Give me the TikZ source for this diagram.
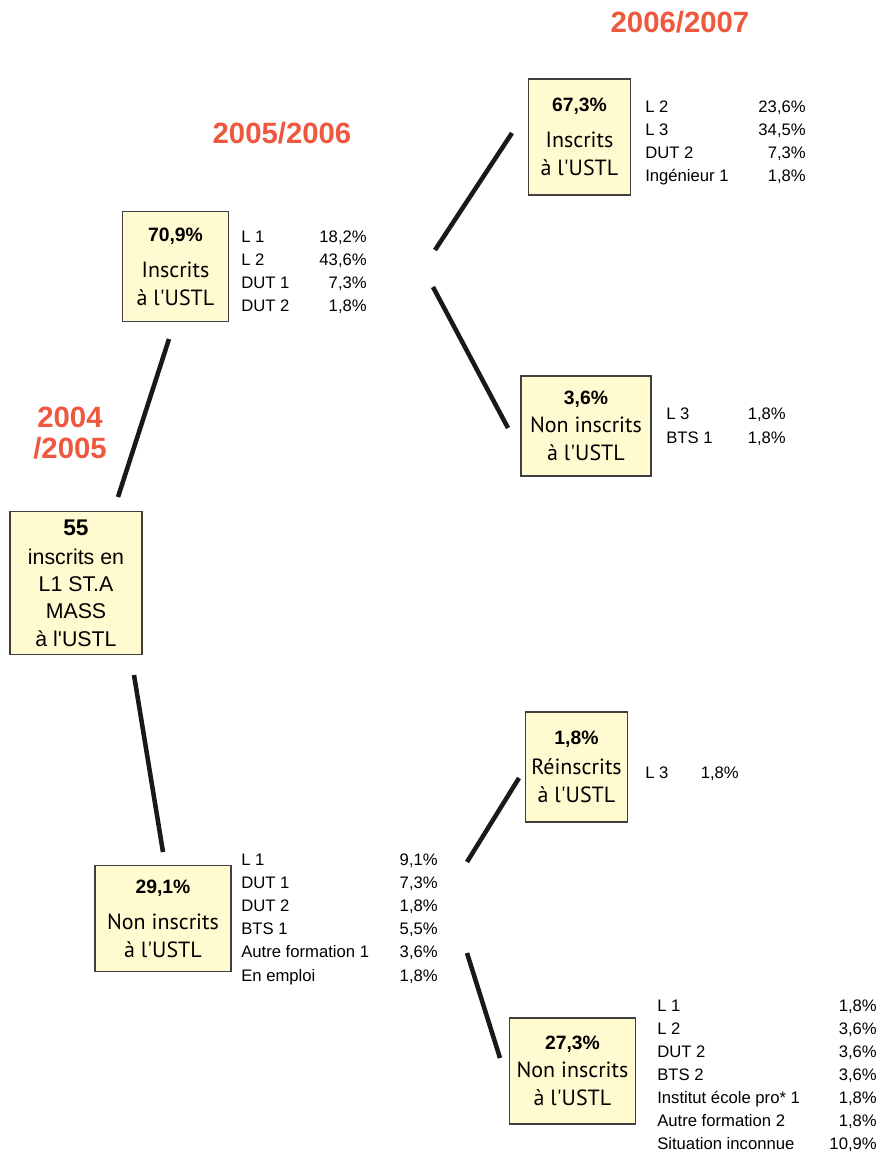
\documentclass[tikz,border=0pt]{standalone}
\usepackage{fontspec}
\setmainfont{Liberation Sans}
\newfontfamily\boxfont{PT Sans}
\usepackage{tikz}
\usetikzlibrary{positioning,calc}
\definecolor{yearorange}{RGB}{238,88,62}
\definecolor{boxyellow}{RGB}{255,250,208}

\begin{document}
\begin{tikzpicture}[x=0.75pt, y=-0.75pt]
    \tikzset{
        box/.style={draw=black!75, line width=0.9pt, fill=boxyellow, align=center, inner sep=0pt,
            font=\boxfont\fontsize{16.5}{21}\selectfont},
        rootbox/.style={box, font=\normalfont\fontsize{16}{20.5}\selectfont},
        year/.style={font=\fontsize{22}{23}\selectfont\bfseries, text=yearorange},
        row/.style={font=\fontsize{12.5}{15}\selectfont, inner sep=0pt},
        link/.style={line width=3.4pt, black!90}
    }
    \useasboundingbox (0,0) rectangle (879,1154);
    \newcommand{\pc}[1]{{\normalfont\fontsize{14.5}{17}\selectfont\bfseries #1}}
    \newcommand{\ustl}{à l\textquotesingle USTL}

    % years
    \node[year] (y0607) at (680,22) {2006/2007};
    \node[year] (y0506) at (282,133) {2005/2006};
    \node[year, align=center] (y0405) at (70,433) {2004\\/2005};

    % 2004/2005
    \node[rootbox, minimum width=99pt, minimum height=107pt] (root) at (76,583)
        {{\fontsize{17}{21}\selectfont\bfseries 55}\\[1pt]inscrits en\\L1 ST.A\\MASS\\\ustl};

    % 2005/2006
    \node[box, minimum width=79pt, minimum height=83pt] (ins1) at (175.5,266.5)
        {\pc{70,9\%}\\[6pt]Inscrits\\\ustl};
    \node[box, minimum width=102pt, minimum height=80pt] (non1) at (163,918.5)
        {\pc{29,1\%}\\[6pt]Non inscrits\\\ustl};

    % 2006/2007
    \node[box, minimum width=77pt, minimum height=87pt] (ins2) at (579.5,137)
        {\pc{67,3\%}\\[6pt]Inscrits\\\ustl};
    \node[box, minimum width=97.5pt, minimum height=75pt] (non2) at (586,426)
        {\pc{3,6\%}\\Non inscrits\\\ustl};
    \node[box, minimum width=77pt, minimum height=82.5pt] (rei3) at (576.5,767)
        {\pc{1,8\%}\\[2pt]Réinscrits\\\ustl};
    \node[box, minimum width=95pt, minimum height=79.5pt] (non3) at (572.5,1071)
        {\pc{27,3\%}\\Non inscrits\\\ustl};

    % lists
    \foreach \lab/\val [count=\i] in {L 1/{18,2\%}, L 2/{43,6\%}, DUT 1/{7,3\%}, DUT 2/{1,8\%}} {
        \node[row, anchor=base west] (ins1-l\i) at (241,{242+23*(\i-1)}) {\lab};
        \node[row, anchor=base east] (ins1-v\i) at (367,{242+23*(\i-1)}) {\val};
    }
    \foreach \lab/\val [count=\i] in {L 2/{23,6\%}, L 3/{34,5\%}, DUT 2/{7,3\%}, Ingénieur 1/{1,8\%}} {
        \node[row, anchor=base west] (ins2-l\i) at (645,{112+23*(\i-1)}) {\lab};
        \node[row, anchor=base east] (ins2-v\i) at (806,{112+23*(\i-1)}) {\val};
    }
    \foreach \lab/\val [count=\i] in {L 3/{1,8\%}, BTS 1/{1,8\%}} {
        \node[row, anchor=base west] (non2-l\i) at (666,{419+24*(\i-1)}) {\lab};
        \node[row, anchor=base east] (non2-v\i) at (786,{419+24*(\i-1)}) {\val};
    }
    \node[row, anchor=base west] (rei3-l1) at (645,778) {L 3};
    \node[row, anchor=base east] (rei3-v1) at (739,778) {1,8\%};
    \foreach \lab/\val [count=\i] in {L 1/{9,1\%}, DUT 1/{7,3\%}, DUT 2/{1,8\%}, BTS 1/{5,5\%},
        Autre formation 1/{3,6\%}, En emploi/{1,8\%}} {
        \node[row, anchor=base west] (non1-l\i) at (241,{865+23.2*(\i-1)}) {\lab};
        \node[row, anchor=base east] (non1-v\i) at (438,{865+23.2*(\i-1)}) {\val};
    }
    \foreach \lab/\val [count=\i] in {L 1/{1,8\%}, L 2/{3,6\%}, DUT 2/{3,6\%}, BTS 2/{3,6\%},
        Institut école pro* 1/{1,8\%}, Autre formation 2/{1,8\%}, Situation inconnue/{10,9\%}} {
        \node[row, anchor=base west] (non3-l\i) at (657,{1011+23.1*(\i-1)}) {\lab};
        \node[row, anchor=base east] (non3-v\i) at (877,{1011+23.1*(\i-1)}) {\val};
    }

    % connectors
    \coordinate (root-up) at (118,497);   \coordinate (ins1-dn) at (169,339);
    \coordinate (root-dn) at (134,675);   \coordinate (non1-up) at (163,852);
    \coordinate (ins1-a) at (435,250);    \coordinate (ins2-dn) at (512,133);
    \coordinate (ins1-b) at (433,287);    \coordinate (non2-up) at (508,428);
    \coordinate (non1-a) at (467,862);    \coordinate (rei3-dn) at (519,778);
    \coordinate (non1-b) at (467,953);    \coordinate (non3-up) at (500,1058);
    \draw[link] (root-up) -- (ins1-dn);
    \draw[link] (root-dn) -- (non1-up);
    \draw[link] (ins1-a) -- (ins2-dn);
    \draw[link] (ins1-b) -- (non2-up);
    \draw[link] (non1-a) -- (rei3-dn);
    \draw[link] (non1-b) -- (non3-up);
\end{tikzpicture}
\end{document}
